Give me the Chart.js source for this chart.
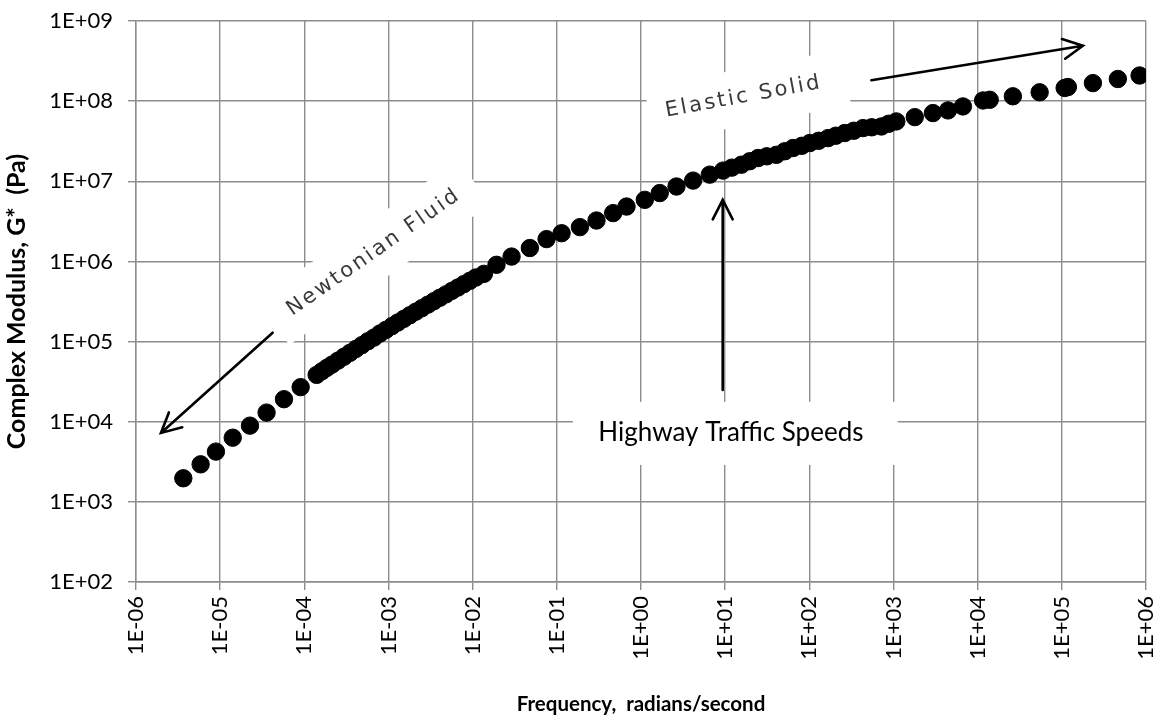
<!DOCTYPE html>
<html>
<head>
<meta charset="utf-8">
<script src="https://cdn.jsdelivr.net/npm/chart.js@4.4.1/dist/chart.umd.min.js"></script>
<style>
  html, body { margin: 0; padding: 0; background: #fff; }
  #wrap { width: 1160px; height: 721px; }
</style>
</head>
<body>
<div id="wrap"><canvas id="modulusChart" width="1160" height="721"></canvas></div>
<script>
// frequency (rad/s) and complex modulus G* (Pa)
const frequency = [
  3.65e-6, 5.86e-6, 8.91e-6, 1.41e-5, 2.26e-5, 3.56e-5, 5.73e-5, 9.04e-5, 1.40e-4,
  1.62e-4, 1.85e-4, 2.13e-4, 2.51e-4, 2.95e-4, 3.48e-4, 4.10e-4, 4.83e-4, 5.69e-4, 6.71e-4, 7.91e-4, 9.31e-4,
  1.10e-3, 1.29e-3, 1.52e-3, 1.79e-3, 2.11e-3, 2.49e-3, 2.94e-3, 3.46e-3, 4.07e-3, 4.81e-3, 5.66e-3, 6.67e-3, 7.85e-3, 9.27e-3, 1.09e-2,
  1.36e-2, 1.92e-2, 2.90e-2, 4.78e-2, 7.55e-2, 0.114, 0.188, 0.296, 0.467, 0.673,
  1.11, 1.67, 2.64, 4.16, 6.56, 9.44,
  12.0, 15.6, 19.6, 24.6, 31.2, 40.6, 51.1, 64.0, 81.3, 101,
  129, 167, 206, 263, 337, 434, 551, 718, 877, 1080,
  1790, 2940, 4440, 6680, 1.16e4, 1.39e4, 2.62e4, 5.45e4, 1.08e5, 1.18e5,
  2.34e5, 4.63e5, 8.39e5
];
const modulus = [
  1970, 2940, 4240, 6320, 8930, 1.30e4, 1.91e4, 2.70e4, 3.84e4,
  4.27e4, 4.70e4, 5.16e4, 5.78e4, 6.46e4, 7.23e4, 8.09e4, 9.04e4, 1.01e5, 1.12e5, 1.26e5, 1.40e5,
  1.56e5, 1.73e5, 1.92e5, 2.13e5, 2.36e5, 2.61e5, 2.89e5, 3.19e5, 3.52e5, 3.88e5, 4.29e5, 4.72e5, 5.21e5, 5.73e5, 6.30e5,
  7.00e5, 9.08e5, 1.15e6, 1.47e6, 1.90e6, 2.25e6, 2.68e6, 3.24e6, 4.01e6, 4.84e6,
  5.87e6, 7.13e6, 8.61e6, 1.02e7, 1.21e7, 1.36e7,
  1.48e7, 1.61e7, 1.78e7, 1.95e7, 2.05e7, 2.14e7, 2.37e7, 2.60e7, 2.77e7, 3.00e7,
  3.20e7, 3.46e7, 3.70e7, 4.00e7, 4.27e7, 4.61e7, 4.72e7, 4.83e7, 5.22e7, 5.58e7,
  6.32e7, 7.10e7, 7.66e7, 8.59e7, 1.02e8, 1.04e8, 1.15e8, 1.29e8, 1.46e8, 1.50e8,
  1.68e8, 1.89e8, 2.09e8
];

const xTickValues = [1e-6, 1e-5, 1e-4, 1e-3, 1e-2, 1e-1, 1e0, 1e1, 1e2, 1e3, 1e4, 1e5, 1e6];
const xTickLabels = ['1E-06', '1E-05', '1E-04', '1E-03', '1E-02', '1E-01', '1E+00',
                     '1E+01', '1E+02', '1E+03', '1E+04', '1E+05', '1E+06'];
const yTickValues = [1e2, 1e3, 1e4, 1e5, 1e6, 1e7, 1e8, 1e9];
const yTickLabels = ['1E+02', '1E+03', '1E+04', '1E+05', '1E+06', '1E+07', '1E+08', '1E+09'];

const gridGray = '#8c8c8c';

// hand-drawn callouts, anchored in data coordinates
const drawArrow = (ctx, x1, y1, x2, y2) => {
  const ang = Math.atan2(y2 - y1, x2 - x1);
  const head = 22, spread = 0.47;
  ctx.beginPath();
  ctx.moveTo(x1, y1);
  ctx.lineTo(x2, y2);
  ctx.moveTo(x2 - head * Math.cos(ang - spread), y2 - head * Math.sin(ang - spread));
  ctx.lineTo(x2, y2);
  ctx.lineTo(x2 - head * Math.cos(ang + spread), y2 - head * Math.sin(ang + spread));
  ctx.stroke();
};

const callouts = {
  id: 'callouts',
  beforeDatasetsDraw(chart) {
    const ctx = chart.ctx, sx = chart.scales.x, sy = chart.scales.y;
    ctx.save();
    ctx.fillStyle = '#fff';
    // highway box
    const bx1 = sx.getPixelForValue(0.155), bx2 = sx.getPixelForValue(1122);
    const by1 = sy.getPixelForValue(1.77e4), by2 = sy.getPixelForValue(2.89e3);
    ctx.fillRect(bx1, by1, bx2 - bx1, by2 - by1);
    // rotated boxes
    [[6.71e-4, 1.30e6, -35, 245, 55], [18.5, 1.15e8, -11, 200, 56]].forEach(b => {
      ctx.save();
      ctx.translate(sx.getPixelForValue(b[0]), sy.getPixelForValue(b[1]));
      ctx.rotate(b[2] * Math.PI / 180);
      ctx.fillRect(-b[3] / 2, -b[4] / 2, b[3], b[4]);
      ctx.restore();
    });
    ctx.restore();
  },
  afterDatasetsDraw(chart) {
    const ctx = chart.ctx, sx = chart.scales.x, sy = chart.scales.y;
    ctx.save();
    ctx.strokeStyle = '#000';
    ctx.lineWidth = 2.6;
    ctx.lineCap = 'round';
    drawArrow(ctx, sx.getPixelForValue(4.2e-5), sy.getPixelForValue(1.29e5),
                   sx.getPixelForValue(1.98e-6), sy.getPixelForValue(7.24e3));
    drawArrow(ctx, sx.getPixelForValue(546), sy.getPixelForValue(1.82e8),
                   sx.getPixelForValue(1.78e5), sy.getPixelForValue(4.92e8));
    drawArrow(ctx, sx.getPixelForValue(9.35), sy.getPixelForValue(2.49e4),
                   sx.getPixelForValue(9.35), sy.getPixelForValue(5.87e6));

    ctx.textAlign = 'center';
    ctx.textBaseline = 'middle';
    ctx.fillStyle = '#000';
    ctx.font = '26px Lato';
    ctx.fillText('Highway Traffic Speeds', sx.getPixelForValue(11.7), sy.getPixelForValue(7.24e3));

    ctx.fillStyle = '#3a3a3a';
    ctx.font = '21px "DejaVu Sans"';
    ctx.letterSpacing = '2.5px';
    [['Newtonian Fluid', 6.71e-4, 1.30e6, -35], ['Elastic Solid', 16.6, 1.13e8, -10.5]].forEach(t => {
      ctx.save();
      ctx.translate(sx.getPixelForValue(t[1]), sy.getPixelForValue(t[2]));
      ctx.rotate(t[3] * Math.PI / 180);
      ctx.fillText(t[0], 0, 0);
      ctx.restore();
    });
    ctx.restore();
  }
};

new Chart(document.getElementById('modulusChart'), {
  type: 'scatter',
  data: {
    datasets: [{
      label: 'G*',
      data: frequency.map((f, i) => ({x: f, y: modulus[i]})),
      backgroundColor: '#000',
      borderColor: '#000',
      pointRadius: 8.7,
      pointHoverRadius: 8.7
    }]
  },
  options: {
    responsive: false,
    animation: false,
    devicePixelRatio: 1,
    layout: { padding: { top: 21, right: 14, left: 0, bottom: 0 } },
    plugins: { legend: { display: false }, tooltip: { enabled: false } },
    scales: {
      x: {
        type: 'logarithmic',
        min: 1e-6,
        max: 1e6,
        afterBuildTicks: scale => { scale.ticks = xTickValues.map(v => ({value: v})); },
        afterFit: scale => {
          scale.height = 139;
          scale.paddingLeft = 0;
          scale.paddingRight = 0;
        },
        grid: { color: gridGray, lineWidth: 1.4, tickLength: 8, tickColor: gridGray },
        border: { color: gridGray, width: 1.4 },
        ticks: {
          autoSkip: false,
          minRotation: 90,
          maxRotation: 90,
          padding: 6,
          color: '#000',
          font: { family: 'Lato', size: 22 },
          callback: (v, i) => xTickLabels[i]
        },
        title: {
          display: true,
          text: 'Frequency,  radians/second',
          color: '#000',
          font: { family: 'Lato', size: 20.5, weight: 'bold' },
          padding: { top: 0, bottom: 4 }
        }
      },
      y: {
        type: 'logarithmic',
        min: 1e2,
        max: 1e9,
        afterBuildTicks: scale => { scale.ticks = yTickValues.map(v => ({value: v})); },
        afterFit: scale => {
          scale.width = 136;
          scale.paddingTop = 0;
          scale.paddingBottom = 0;
        },
        grid: { color: gridGray, lineWidth: 1.4, tickLength: 8, tickColor: gridGray },
        border: { color: gridGray, width: 1.4 },
        ticks: {
          padding: 15,
          color: '#000',
          font: { family: 'Lato', size: 22 },
          callback: (v, i) => yTickLabels[i]
        },
        title: {
          display: true,
          text: 'Complex Modulus, G*  (Pa)',
          color: '#000',
          font: { family: 'Lato', size: 25, weight: 'bold' },
          padding: { top: 2, bottom: 0 }
        }
      }
    }
  },
  plugins: [callouts]
});
</script>
</body>
</html>
